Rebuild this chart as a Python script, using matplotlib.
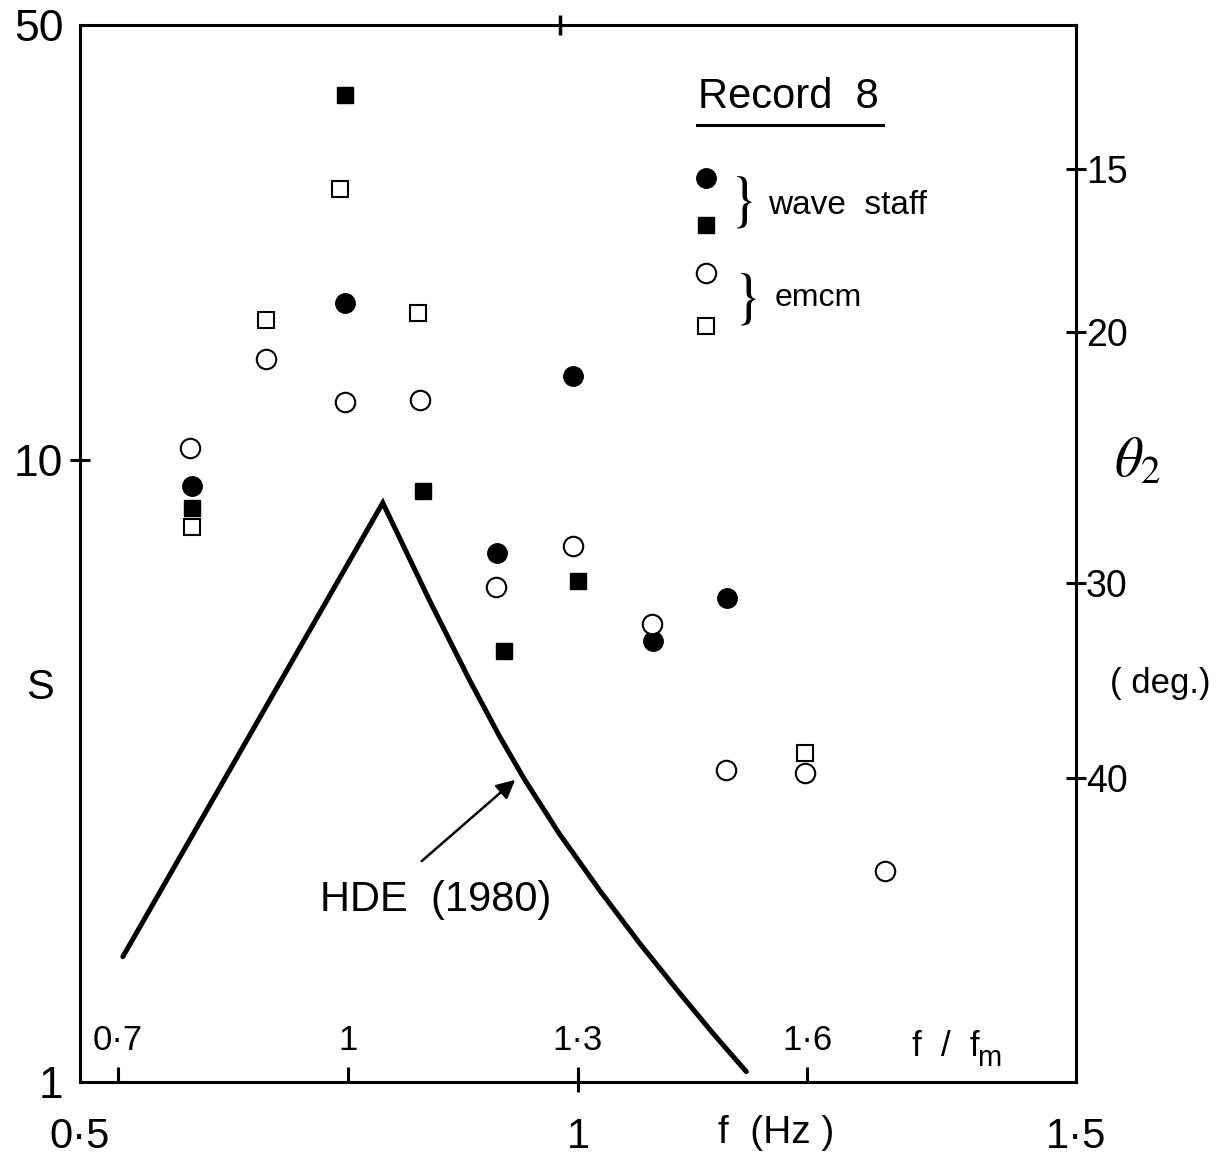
import matplotlib.pyplot as plt
from matplotlib.ticker import NullLocator

plt.rcParams['font.family'] = ['Liberation Sans', 'DejaVu Sans']
plt.rcParams['mathtext.fontset'] = 'stix'

W, H = 1225, 1161
fm = 0.769  # peak frequency (Hz) used for the f/fm scale

# wave staff
ws_circ_f = [0.612, 0.766, 0.919, 0.995, 1.075, 1.150]
ws_circ_s = [9.08, 17.9, 7.09, 13.65, 5.12, 6.00]
ws_sq_f = [0.612, 0.766, 0.844, 0.926, 1.000]
ws_sq_s = [8.37, 38.6, 8.92, 4.93, 6.39]
# emcm
em_circ_f = [0.610, 0.687, 0.766, 0.841, 0.918, 0.995, 1.074, 1.149, 1.228, 1.308]
em_circ_s = [10.45, 14.5, 12.4, 12.5, 6.25, 7.27, 5.45, 3.17, 3.14, 2.18]
em_sq_f = [0.612, 0.687, 0.761, 0.839, 1.228]
em_sq_s = [7.80, 16.8, 27.2, 17.2, 3.38]
# HDE (1980)
hde_f = [0.543, 0.804, 0.851, 0.891, 0.921, 0.946, 0.981, 1.022, 1.062, 1.102, 1.135, 1.169]
hde_s = [1.59, 8.53, 5.94, 4.43, 3.60, 3.07, 2.51, 2.03, 1.67, 1.39, 1.20, 1.039]

# axes ticks
x_ticks = [0.5, 1.0, 1.5]
x_labels = ['0·5', '1', '1·5']
y_ticks = [1, 10, 50]
y_labels = ['1', '10', '50']
ffm_ticks = [0.7, 1.0, 1.3, 1.6]
ffm_labels = ['0·7', '1', '1·3', '1·6']
theta_at_s = [29.3, 16.06, 6.34, 3.08]
theta_labels = ['15', '20', '30', '40']
top_tick = [0.982]


def fx(x):
    return x / W


def fy(y):
    return 1 - y / H


fig = plt.figure(figsize=(W / 100, H / 100), dpi=100)
ax = fig.add_axes([fx(80), fy(1082), 996 / W, 1057 / H])

ax.plot(hde_f, hde_s, color='k', lw=3.6, solid_joinstyle='miter', solid_capstyle='round')
ax.plot(ws_circ_f, ws_circ_s, 'o', color='k', ms=14, ls='none')
ax.plot(ws_sq_f, ws_sq_s, 's', color='k', ms=11.5, ls='none')
ax.plot(em_circ_f, em_circ_s, 'o', mfc='white', mec='k', mew=1.5, ms=14, ls='none')
ax.plot(em_sq_f, em_sq_s, 's', mfc='white', mec='k', mew=1.5, ms=11.5, ls='none')

ax.set_xlim(0.5, 1.5)
ax.set_yscale('log')
ax.set_ylim(1, 50)
ax.set_xticks(x_ticks, x_labels)
ax.set_yticks(y_ticks, y_labels)
ax.yaxis.set_minor_locator(NullLocator())
ax.xaxis.set_minor_locator(NullLocator())
ax.tick_params(axis='x', direction='inout', length=14, width=2.2, labelsize=30, pad=18)
ax.tick_params(axis='y', direction='inout', length=14, width=2.2, labelsize=32, pad=5)
for t in (ax.xaxis.get_major_ticks()[0], ax.xaxis.get_major_ticks()[-1],
          ax.yaxis.get_major_ticks()[0], ax.yaxis.get_major_ticks()[-1]):
    t.tick1line.set_visible(False)
for sp in ax.spines.values():
    sp.set_linewidth(2.2)

# tick on the top edge
top = ax.secondary_xaxis('top')
top.set_xticks(top_tick, [''])
top.tick_params(direction='inout', length=14, width=2.5)
top.spines['top'].set_visible(False)

# f/fm scale drawn inside the bottom edge
ffm = ax.secondary_xaxis(0, functions=(lambda f: f / fm, lambda r: r * fm))
ffm.set_alignment('top')
ffm.spines['top'].set_visible(False)
ffm.set_xticks(ffm_ticks, ffm_labels)
ffm.xaxis.set_minor_locator(NullLocator())
ffm.tick_params(direction='out', length=11, width=2.2, labelsize=25, pad=7)

# theta_2 scale on the right
th = ax.secondary_yaxis('right')
th.set_yticks(theta_at_s, theta_labels)
th.yaxis.set_minor_locator(NullLocator())
th.tick_params(direction='inout', length=14, width=2.2, labelsize=27, pad=0)
th.spines['right'].set_linewidth(2.2)

# legend block
ax.text(0.7108, 0.9319, 'Record  8', transform=ax.transAxes, fontsize=30,
        ha='center', va='center')
ax.plot([0.6195, 0.8062], [0.9054, 0.9054], color='k', lw=2.2,
        transform=ax.transAxes, clip_on=False)
ax.plot([0.6285], [0.8553], 'o', color='k', ms=14, transform=ax.transAxes)
ax.plot([0.6285], [0.8108], 's', color='k', ms=11.5, transform=ax.transAxes)
ax.plot([0.6285], [0.7654], 'o', mfc='white', mec='k', mew=1.5, ms=14, transform=ax.transAxes)
ax.plot([0.6285], [0.7152], 's', mfc='white', mec='k', mew=1.5, ms=11.5, transform=ax.transAxes)
ax.text(0.6637, 0.8326, r'$\}$', transform=ax.transAxes, fontsize=44,
        ha='center', va='center')
ax.text(0.6677, 0.7408, r'$\}$', transform=ax.transAxes, fontsize=44,
        ha='center', va='center')
ax.text(0.6908, 0.8297, 'wave  staff', transform=ax.transAxes, fontsize=24,
        ha='left', va='center')
ax.text(0.6978, 0.7417, 'emcm', transform=ax.transAxes, fontsize=23,
        ha='left', va='center')

# HDE label and arrow
ax.annotate('', xy=(0.939, 3.08), xytext=(0.841, 2.25),
            arrowprops=dict(arrowstyle='-|>', color='k', lw=1.8, mutation_scale=28))
fig.text(fx(320), fy(900), 'HDE  (1980)', fontsize=30, ha='left', va='center')

# axis titles
fig.text(fx(40), fy(688), 'S', fontsize=30, ha='center', va='center')
fig.text(fx(776), fy(1143), 'f  (Hz )', fontsize=28, ha='center', va='baseline')
fig.text(fx(912), fy(1056), 'f  /  f', fontsize=25, ha='left', va='baseline')
fig.text(fx(977), fy(1066), 'm', fontsize=21, ha='left', va='baseline')
fig.text(fx(1138), fy(462), r'$\theta_2$', fontsize=40, ha='center', va='center')
fig.text(fx(1160), fy(683), '( deg.)', fontsize=25, ha='center', va='center')

fig.savefig('out.png', dpi=100)
